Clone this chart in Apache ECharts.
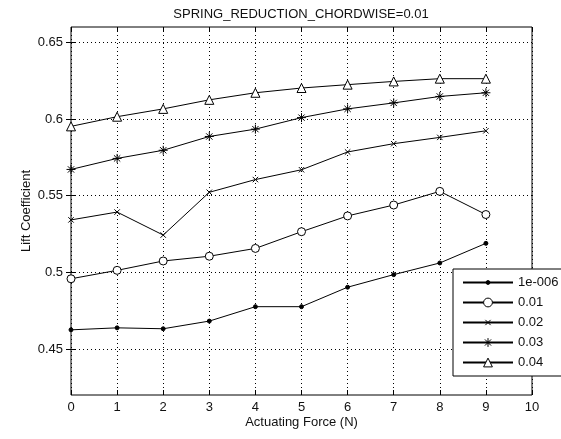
<!DOCTYPE html>
<html>
<head>
<meta charset="utf-8">
<script src="https://cdn.jsdelivr.net/npm/echarts@6/dist/echarts.min.js"></script>
<style>
  html, body { margin: 0; padding: 0; background: #fff; }
  #chart { width: 561px; height: 439px; }
</style>
</head>
<body>
<div id="chart"></div>
<script>
// actuating force values (x)
const forces = [0, 1, 2, 3, 4, 5, 6, 7, 8, 9]
// lift coefficient per spring value
const lift1e006 = [0.4625, 0.4638, 0.4632, 0.4682, 0.4776, 0.4776, 0.4903, 0.4985, 0.5061, 0.5189]
const lift001 = [0.4958, 0.5013, 0.5074, 0.5105, 0.5156, 0.5265, 0.5368, 0.5439, 0.5528, 0.5377]
const lift002 = [0.5342, 0.5393, 0.5243, 0.5522, 0.5605, 0.5669, 0.5785, 0.5839, 0.5880, 0.5923]
const lift003 = [0.5671, 0.5743, 0.5796, 0.5886, 0.5934, 0.6009, 0.6066, 0.6105, 0.6147, 0.6171]
const lift004 = [0.5952, 0.6015, 0.6066, 0.6125, 0.6171, 0.6202, 0.6224, 0.6245, 0.6263, 0.6263]
const seriesNames = ['1e-006', '0.01', '0.02', '0.03', '0.04']
const yTicks = [0.45, 0.5, 0.55, 0.6, 0.65]

const font = 'Liberation Sans, Arial, sans-serif'
const textColor = '#111'

// marker shapes (padded boxes keep legend and plot sizes alike)
const markers = [
  'path://M0,0M10,10M2.8,5a2.2,2.2 0 1,0 4.4,0a2.2,2.2 0 1,0 -4.4,0Z',
  'circle',
  'path://M0,0M10,10M2,2L8,8M8,2L2,8',
  'path://M5,0L5,10M0,5L10,5M1.5,1.5L8.5,8.5M8.5,1.5L1.5,8.5',
  'path://M5,0.5L9.5,9.5L0.5,9.5Z'
]
const fills = ['#000', '#fff', '#000', '#000', '#fff']
const sizes = [9, 8, 9, 9, 9]

const chart = echarts.init(document.getElementById('chart'))

const makeSeries = (name, values, i) => ({
  name: name,
  type: 'line',
  data: forces.map((f, k) => [f, values[k]]),
  symbol: markers[i],
  symbolSize: sizes[i],
  showAllSymbol: true,
  clip: false,
  lineStyle: { color: '#000', width: 1 },
  itemStyle: { color: fills[i], borderColor: '#000', borderWidth: 1 },
  emphasis: { disabled: true },
  animation: false
})

const option = {
  backgroundColor: '#fff',
  animation: false,
  title: {
    text: 'SPRING_REDUCTION_CHORDWISE=0.01',
    left: 301,
    top: 8,
    padding: 0,
    textAlign: 'center',
    textStyle: { fontFamily: font, fontSize: 13, fontWeight: 'normal', color: textColor }
  },
  grid: {
    left: 71,
    right: 29,
    top: 27,
    bottom: 44,
    show: true,
    borderColor: '#000',
    borderWidth: 1,
    backgroundColor: '#fff'
  },
  legend: {
    orient: 'vertical',
    left: 453,
    top: 269,
    padding: [7, 13, 7, 9],
    itemWidth: 50,
    itemHeight: 11,
    itemGap: 7,
    borderColor: '#000',
    borderWidth: 1,
    borderRadius: 0,
    backgroundColor: '#fff',
    selectedMode: false,
    itemStyle: { borderWidth: 1 },
    textStyle: { fontFamily: font, fontSize: 13, color: textColor, padding: [0, 0, 0, 0] },
    data: seriesNames
  },
  xAxis: [
    {
      type: 'value',
      min: 0,
      max: 10,
      interval: 1,
      name: 'Actuating Force (N)',
      nameLocation: 'middle',
      nameGap: 21,
      nameMoveOverlap: false,
      nameTextStyle: { fontFamily: font, fontSize: 13, color: textColor },
      axisLine: { show: false },
      axisTick: { show: true, inside: true, length: 5, lineStyle: { color: '#000' } },
      axisLabel: { fontFamily: font, fontSize: 13, color: textColor, margin: 6 },
      splitLine: { show: true, lineStyle: { color: '#000', width: 1, type: [1, 3] } }
    },
    {
      type: 'value',
      position: 'top',
      min: 0,
      max: 10,
      interval: 1,
      axisLine: { show: false },
      axisTick: { show: true, inside: true, length: 5, lineStyle: { color: '#000' } },
      axisLabel: { show: false },
      splitLine: { show: false }
    }
  ],
  yAxis: [
    {
      type: 'value',
      min: 0.42,
      max: 0.66,
      name: 'Lift Coefficient',
      nameLocation: 'middle',
      nameGap: 38,
      nameMoveOverlap: false,
      nameTextStyle: { fontFamily: font, fontSize: 13, color: textColor },
      axisLine: { show: false },
      axisTick: { show: true, inside: true, length: 5, customValues: yTicks, lineStyle: { color: '#000' } },
      axisLabel: {
        fontFamily: font, fontSize: 13, color: textColor, margin: 8,
        customValues: yTicks,
        formatter: (v) => String(Number(v.toFixed(2)))
      },
      splitLine: { show: true, lineStyle: { color: '#000', width: 1, type: [1, 3] } }
    },
    {
      type: 'value',
      position: 'right',
      min: 0.42,
      max: 0.66,
      axisLine: { show: false },
      axisTick: { show: true, inside: true, length: 5, customValues: yTicks, lineStyle: { color: '#000' } },
      axisLabel: { show: false, customValues: yTicks },
      splitLine: { show: false }
    }
  ],
  series: [
    makeSeries(seriesNames[0], lift1e006, 0),
    makeSeries(seriesNames[1], lift001, 1),
    makeSeries(seriesNames[2], lift002, 2),
    makeSeries(seriesNames[3], lift003, 3),
    makeSeries(seriesNames[4], lift004, 4)
  ]
}

chart.setOption(option)
</script>
</body>
</html>
